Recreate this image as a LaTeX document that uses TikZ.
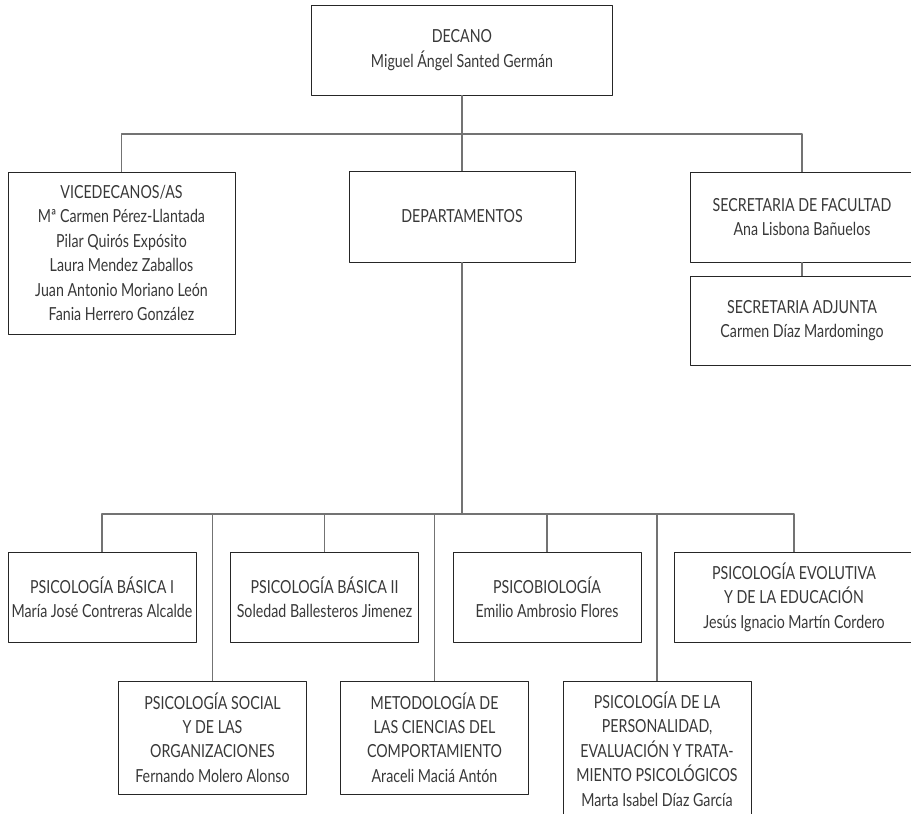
\documentclass[tikz,border=0pt]{standalone}
\usepackage{fontspec}
\setmainfont{Lato}[FakeStretch=0.79]
\begin{document}
\begin{tikzpicture}[x=1pt, y=-1pt, line join=round,
  caja/.style={draw=black!85, line width=0.8pt, align=center, inner sep=0pt,
    font=\fontsize{18}{24.4}\selectfont, text=black!78},
  fila/.style={caja, minimum width=188, minimum height=90},
  fila2/.style={caja, minimum width=188, minimum height=113},
  linea/.style={draw=black!55, line width=1.2pt}]
  \clip (0,0) rectangle (911,814);
  \node[caja, minimum width=301, minimum height=90] (decano) at (462,50) {DECANO\\Miguel Ángel Santed Germán};
  \node[caja, minimum width=227, minimum height=162] (vice) at (121.5,253) {VICEDECANOS/AS\\Mª Carmen Pérez-Llantada\\Pilar Quirós Expósito\\Laura Mendez Zaballos\\Juan Antonio Moriano León\\Fania Herrero González};
  \node[caja, minimum width=226, minimum height=91] (dep) at (462,216.5) {DEPARTAMENTOS};
  \node[caja, minimum width=224, minimum height=90] (secre) at (802,217) {SECRETARIA DE FACULTAD\\Ana Lisbona Bañuelos};
  \node[caja, minimum width=224, minimum height=89] (adjunta) at (802,320.5) {SECRETARIA ADJUNTA\\Carmen Díaz Mardomingo};
  % departamentos
  \node[fila] (basica1) at (102,597) {PSICOLOGÍA BÁSICA I\\María José Contreras Alcalde};
  \node[fila] (basica2) at (324.5,597) {PSICOLOGÍA BÁSICA II\\Soledad Ballesteros Jimenez};
  \node[fila] (psicobio) at (547,597) {PSICOBIOLOGÍA\\Emilio Ambrosio Flores};
  \node[fila, minimum width=240] (evolutiva) at (794,597) {PSICOLOGÍA EVOLUTIVA\\Y DE LA EDUCACIÓN\\Jesús Ignacio Martín Cordero};
  \node[fila2] (social) at (212.5,737.5) {PSICOLOGÍA SOCIAL\\Y DE LAS\\ORGANIZACIONES\\Fernando Molero Alonso};
  \node[fila2] (metodologia) at (434.5,737.5) {METODOLOGÍA DE\\LAS CIENCIAS DEL\\COMPORTAMIENTO\\Araceli Maciá Antón};
  \node[fila2, minimum height=136] (personalidad) at (657,749) {PSICOLOGÍA DE LA\\PERSONALIDAD,\\EVALUACIÓN Y TRATA-\\MIENTO PSICOLÓGICOS\\Marta Isabel Díaz García};
  \coordinate (bus1) at (462,134);
  \coordinate (bus2) at (462,514);
  \draw[linea] (decano.south) -- (dep.north);
  \draw[linea] (vice.north) |- (bus1) -| (secre.north);
  \draw[linea] (secre.south) -- (adjunta.north);
  \draw[linea] (dep.south) -- (bus2);
  \draw[linea] (basica1.north) |- (bus2) -| (evolutiva.north);
  \foreach \n in {basica2, psicobio, social, metodologia, personalidad}
    \draw[linea] (\n.north) -- (\n.north |- bus2);
\end{tikzpicture}
\end{document}
